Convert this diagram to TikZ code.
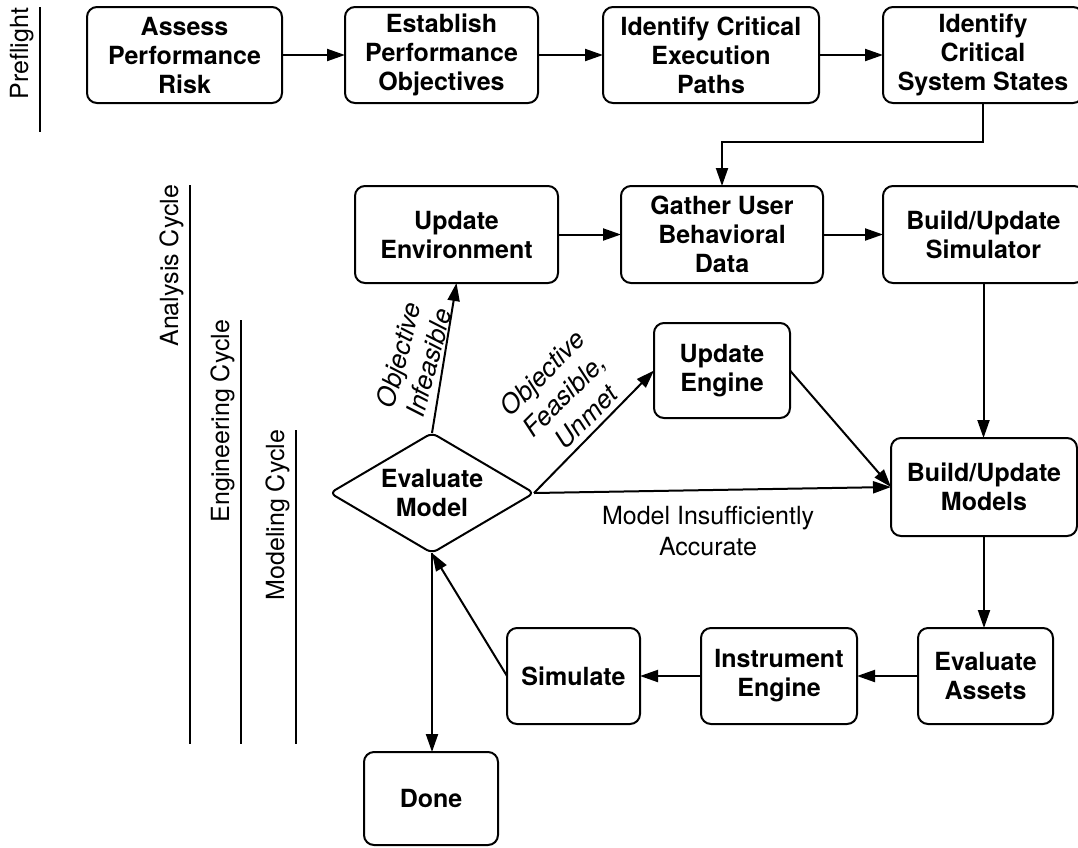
\documentclass[tikz,border=0pt]{standalone}
\usepackage{fontspec}
\setmainfont{TeX Gyre Heros}
\usetikzlibrary{arrows.meta,shapes.geometric,calc}

\begin{document}
\begin{tikzpicture}[x=1pt,y=-1pt,
  every node/.style={inner sep=0pt, outer sep=0pt},
  stepbox/.style={draw, line width=2pt, rounded corners=10pt, align=center,
    font=\fontsize{25}{29}\selectfont\bfseries},
  decide/.style={draw, line width=2pt, diamond, aspect=1.7, rounded corners=6pt,
    align=center, minimum width=204pt, minimum height=120pt,
    font=\fontsize{25}{29}\selectfont\bfseries},
  flow/.style={line width=2pt, -{Triangle[length=18pt,width=12pt]}},
  edgelabel/.style={align=center, font=\fontsize{25}{31}\selectfont},
  slanted/.style={align=center, font=\fontsize{26}{31}\selectfont\itshape},
  phase/.style={rotate=90, anchor=base east, font=\fontsize{25}{30}\selectfont},
  phaseline/.style={line width=2pt},
]
\useasboundingbox (0,0) rectangle (1078,847);

% phase markers on the left
\draw[phaseline] (40,7) -- (40,132);
\node[phase] (pre) at (28,8) {Preflight};
\draw[phaseline] (190,185) -- (190,744);
\node[phase] (ana) at (178,185) {Analysis Cycle};
\draw[phaseline] (241,320) -- (241,744);
\node[phase] (eng) at (229,320) {Engineering Cycle};
\draw[phaseline] (296,430) -- (296,744);
\node[phase] (mod) at (284,430) {Modeling Cycle};

% preflight row
\node[stepbox, minimum width=195pt, minimum height=96pt] (risk) at (184.5,55) {Assess\\Performance\\Risk};
\node[stepbox, minimum width=193pt, minimum height=96pt] (obj) at (441.5,55) {Establish\\Performance\\Objectives};
\node[stepbox, minimum width=216pt, minimum height=96pt] (paths) at (711,55) {Identify Critical\\Execution\\Paths};
\node[stepbox, minimum width=200pt, minimum height=96pt] (states) at (983,55) {Identify\\Critical\\System States};

% analysis row
\node[stepbox, minimum width=203pt, minimum height=97pt] (env) at (456.5,234.5) {Update\\Environment};
\node[stepbox, minimum width=202pt, minimum height=97pt] (gather) at (722,234.5) {Gather User\\Behavioral\\Data};
\node[stepbox, minimum width=201pt, minimum height=97pt] (simr) at (983.5,234.5) {Build/Update\\Simulator};

% engineering / modeling cycle
\node[stepbox, minimum width=136pt, minimum height=95pt] (engine) at (722,370.5) {Update\\Engine};
\node[stepbox, minimum width=186pt, minimum height=98pt] (models) at (984,487) {Build/Update\\Models};
\node[decide] (eval) at (432,493) {Evaluate\\Model};
\node[stepbox, minimum width=135pt, minimum height=96pt] (assets) at (985.5,676) {Evaluate\\Assets};
\node[stepbox, minimum width=156pt, minimum height=96pt] (instr) at (779,676) {Instrument\\Engine};
\node[stepbox, minimum width=133pt, minimum height=96pt] (sim) at (573.5,676) {Simulate};
\node[stepbox, minimum width=134pt, minimum height=93pt] (done) at (431,798.5) {Done};

% connectors
\draw[flow] (risk.east) -- (obj.west);
\draw[flow] (obj.east) -- (paths.west);
\draw[flow] (paths.east) -- (states.west);
\draw[flow] (states.south) -- ++(0,39) -| (gather.north);
\draw[flow] (env.east) -- (gather.west);
\draw[flow] (gather.east) -- (simr.west);
\draw[flow] (simr.south) -- (simr.south |- models.north);
\draw[flow] (models.south) -- (models.south |- assets.north);
\draw[flow] (assets.west) -- (instr.east);
\draw[flow] (instr.west) -- (sim.east);
\draw[flow] (sim.west) -- (eval.south);
\draw[flow] (eval.south) -- (eval.south |- done.north);
\draw[flow] (eval.north) -- (env.south);
\draw[flow] (eval.east) -- (engine.west);
\draw[flow] (eval.east) -- (models.west);
\draw[flow] (engine.east) -- (models.west);

% connector labels
\node[slanted, rotate=75] (lblinf) at (413.5,359) {Objective\\Infeasible};
\node[slanted, rotate=45] (lblfeas) at (564,395) {Objective\\Feasible,\\Unmet};
\node[edgelabel] (lblacc) at (708,531) {Model Insufficiently\\Accurate};
\end{tikzpicture}
\end{document}
